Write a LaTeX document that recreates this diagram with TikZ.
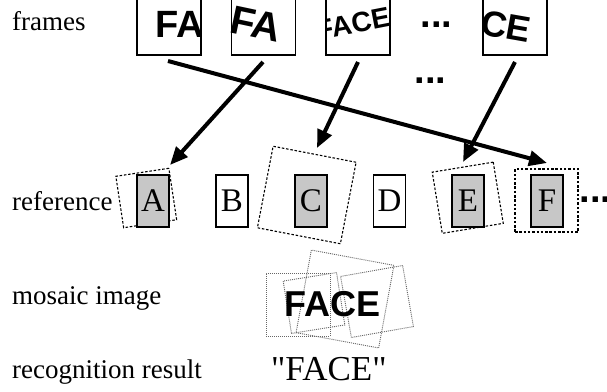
\documentclass[tikz,border=0pt]{standalone}
\usepackage{fontspec}
\setmainfont{Liberation Serif}
\newfontfamily\arialfam{Liberation Sans}
\newfontfamily\rawserif{Liberation Serif}
\usetikzlibrary{arrows.meta}

\tikzset{
  lbl/.style={anchor=base west, inner sep=0, font=\fontsize{27}{30}\selectfont},
  framebox/.style={draw, line width=1.3pt, minimum width=64pt, minimum height=60pt, inner sep=0},
  frametext/.style={anchor=base west, inner sep=0},
  letterbox/.style={draw, line width=1.4pt, minimum width=32pt, minimum height=52pt, inner sep=0,
    font=\fontsize{33}{35}\selectfont},
  shaded/.style={fill=black!22},
  regbox/.style={draw, line width=1.1pt, dash pattern=on 2.5pt off 1.8pt, inner sep=0},
  mosbox/.style={draw=black!60, line width=0.9pt, dash pattern=on 1pt off 1pt, inner sep=0},
  flow/.style={line width=4pt, -{Triangle[length=18pt,width=15pt]}},
  dots/.style={anchor=base west, inner sep=0, font=\arialfam\bfseries\fontsize{38}{40}\selectfont},
}

\begin{document}
\begin{tikzpicture}[x=1pt, y=-1pt]
\useasboundingbox (0,0) rectangle (607,391);
\clip (0,0) rectangle (607,391);

% row labels
\node[lbl] (lframes) at (12,30) {frames};
\node[lbl] (lref)    at (12,210) {reference};
\node[lbl] (lmos)    at (12,304) {mosaic image};
\node[lbl] (lrec)    at (12,378) {recognition result};

% camera frames, each showing a clipped part of the word
\node[framebox] (fr1) at (169,25) {};
\node[framebox] (fr2) at (263.5,25) {};
\node[framebox] (fr3) at (358,25) {};
\node[framebox] (fr4) at (515,25) {};

\begin{scope}
  \clip (fr1.south west) rectangle (fr1.north east);
  \node[frametext, font=\arialfam\bfseries\fontsize{38}{40}\selectfont] (t1) at (155,37) {FA};
\end{scope}
\begin{scope}
  \clip (fr2.south west) rectangle (fr2.north east);
  \node[frametext, rotate=-12, font=\arialfam\bfseries\fontsize{40}{42}\selectfont] (t2) at (228,32) {FA};
\end{scope}
\begin{scope}
  \clip (fr3.south west) rectangle (fr3.north east);
  \node[frametext, rotate=11, font=\arialfam\bfseries\fontsize{28}{30}\selectfont] (t3) at (318,40.5) {FACE};
\end{scope}
\begin{scope}
  \clip (fr4.south west) rectangle (fr4.north east);
  \node[frametext, rotate=-10, font=\arialfam\bfseries\fontsize{36}{38}\selectfont] (t4) at (479,34) {CE};
\end{scope}

\node[dots] (d1) at (420.3,27) {...};
\node[dots] (d2) at (414.3,83) {...};
\node[dots] (d3) at (579.3,202) {...};

% registered regions in the reference
\node[regbox, minimum width=53.6pt, minimum height=52pt, rotate=8.6]  (gA) at (146.25,198) {};
\node[regbox, minimum width=84.5pt, minimum height=83pt, rotate=-10.9] (gC) at (306.75,195) {};
\node[regbox, minimum width=61.8pt, minimum height=62pt, rotate=9.3]  (gE) at (467.75,197.75) {};
\node[regbox, minimum width=63pt, minimum height=63pt]                (gF) at (546.5,200.5) {};

% reference characters
\node[letterbox, shaded] (rA) at (153,201) {A};
\node[letterbox]         (rB) at (232,201) {B};
\node[letterbox, shaded] (rC) at (311,201) {C};
\node[letterbox]         (rD) at (389.5,201) {D};
\node[letterbox, shaded] (rE) at (468,201) {E};
\node[letterbox, shaded] (rF) at (547,201) {F};

% arrows from frames to their registered regions
\coordinate (s1) at (168,61);  \coordinate (e1) at (547,163);
\coordinate (s2) at (263,62);  \coordinate (e2) at (170,165);
\coordinate (s3) at (358,62);  \coordinate (e3) at (317,148);
\coordinate (s4) at (515,62);  \coordinate (e4) at (463,162);
\draw[flow] (s1) -- (e1);
\draw[flow] (s2) -- (e2);
\draw[flow] (s3) -- (e3);
\draw[flow] (s4) -- (e4);

% mosaic of the registered frames
\node[mosbox, minimum width=64pt, minimum height=63pt]              (m1) at (298,304.5) {};
\node[mosbox, minimum width=54pt, minimum height=53pt, rotate=9]    (m2) at (314,303) {};
\node[mosbox, minimum width=84pt, minimum height=84pt, rotate=-10.5] (m3) at (345,299) {};
\node[mosbox, minimum width=63pt, minimum height=62pt, rotate=10]   (m4) at (377,301.5) {};
\node[frametext, font=\arialfam\bfseries\fontsize{36}{38}\selectfont] (mw) at (284.5,316) {FACE};

% recognition result, with straight quotation marks
\node[anchor=base west, inner sep=0, font=\rawserif\fontsize{35}{38}\selectfont] (res) at (271,380) {"FACE"};
\end{tikzpicture}
\end{document}
